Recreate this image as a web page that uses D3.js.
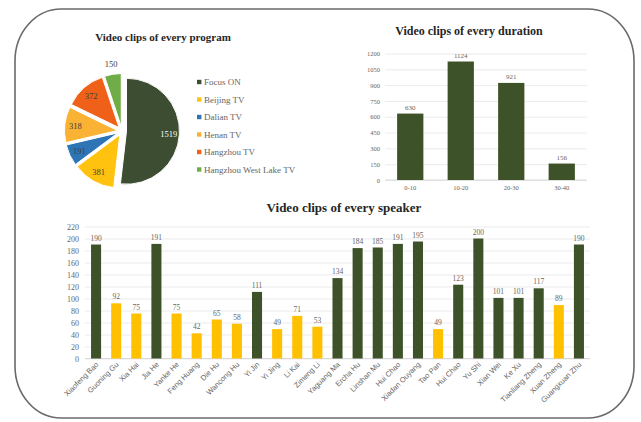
<!DOCTYPE html>
<html>
<head>
<meta charset="utf-8">
<script src="https://cdn.jsdelivr.net/npm/d3@7"></script>
<style>
  body { margin: 0; background: #fff; }
  svg { display: block; }
</style>
</head>
<body>
<svg id="chart"></svg>
<script>
// data
const programs = ['Focus ON', 'Beijing TV', 'Dalian TV', 'Henan TV', 'Hangzhou TV', 'Hangzhou West Lake TV'];
const programClips = [1519, 381, 191, 318, 372, 150];

const durations = ['0-10', '10-20', '20-30', '30-40'];
const durationClips = [630, 1124, 921, 156];
const durationTicks = [0, 150, 300, 450, 600, 750, 900, 1050, 1200];

const speakers = ['Xiaofeng Bao', 'Guoning Gu', 'Xia Hai', 'Jia He', 'Yanke He', 'Feng Huang', 'Die Hu',
  'Wancong Hu', 'Yi Jin', 'Yi Jing', 'Li Kai', 'Zimeng Li', 'Yaguang Ma', 'Ercha Hu', 'Linshan Mu',
  'Hui Chao', 'Xiadan Ouyang', 'Tao Pan', 'Hui Chao', 'Yu Shi', 'Xian Wei', 'Ke Xu',
  'Tianliang Zheng', 'Xuan Zheng', 'Guangxuan Zhu'];
const speakerClips = [190, 92, 75, 191, 75, 42, 65, 58, 111, 49, 71, 53, 134, 184, 185, 191, 195, 49,
  123, 200, 101, 101, 117, 89, 190];
const speakerTicks = [0, 20, 40, 60, 80, 100, 120, 140, 160, 180, 200, 220];

const W = 641, H = 422;
const serif = '"Liberation Serif", "DejaVu Serif", serif';
const sans = '"Liberation Sans", Arial, sans-serif';
const green = '#3e5229';
const yellow = '#ffc000';
const gridColor = '#e3e3e3';
const textGray = '#666666';

const svg = d3.select('#chart')
  .attr('width', W)
  .attr('height', H);

svg.append('rect')
  .attr('width', W).attr('height', H)
  .attr('fill', '#fff');

// rounded frame
svg.append('rect')
  .attr('x', 15).attr('y', 9)
  .attr('width', 619).attr('height', 409)
  .attr('rx', 46).attr('ry', 52)
  .attr('fill', 'none')
  .attr('stroke', '#6a6a6a')
  .attr('stroke-width', 1.6);

// ---------- pie ----------
const pieColors = d3.scaleOrdinal()
  .domain(programs)
  .range(['#3c4d31', '#ffc20e', '#2e75b6', '#f9b233', '#ef6118', '#70ad47']);

const cx = 122, cy = 131, r = 53, explode = 4.5;

svg.append('text')
  .attr('x', 163).attr('y', 41)
  .attr('text-anchor', 'middle')
  .attr('font-family', serif)
  .attr('font-weight', 'bold')
  .attr('font-size', 11)
  .attr('fill', '#262626')
  .text('Video clips of every program');

const pie = d3.pie().sort(null).value(d => d.v);
const arcs = pie(programs.map((p, i) => ({ name: p, v: programClips[i] })));
const arc = d3.arc().innerRadius(0).outerRadius(r);

const pieG = svg.append('g').attr('transform', `translate(${cx},${cy})`);

const slices = pieG.selectAll('.slice')
  .data(arcs)
  .enter()
  .append('g')
  .attr('class', 'slice')
  .attr('transform', d => {
    const mid = (d.startAngle + d.endAngle) / 2;
    return `translate(${explode * Math.sin(mid)},${-explode * Math.cos(mid)})`;
  });

slices.append('path')
  .attr('d', arc)
  .attr('fill', d => pieColors(d.data.name))
  .attr('stroke', '#fff')
  .attr('stroke-width', 1);

// small slices get their label outside
const labelR = d => (d.endAngle - d.startAngle < 0.35 ? r * 1.2 : r * 0.8);

slices.append('text')
  .attr('x', d => labelR(d) * Math.sin((d.startAngle + d.endAngle) / 2))
  .attr('y', d => -labelR(d) * Math.cos((d.startAngle + d.endAngle) / 2))
  .attr('dy', '0.35em')
  .attr('text-anchor', 'middle')
  .attr('font-family', serif)
  .attr('font-size', 8.5)
  .attr('fill', (d, i) => i === 0 ? '#fff' : '#404040')
  .text(d => d.data.v);

// legend
const legend = svg.append('g').attr('transform', 'translate(197,82)');
const items = legend.selectAll('.item')
  .data(programs)
  .enter()
  .append('g')
  .attr('class', 'item')
  .attr('transform', (d, i) => `translate(0,${i * 17.5})`);

items.append('rect')
  .attr('x', 0).attr('y', -2.2)
  .attr('width', 4.4).attr('height', 4.4)
  .attr('fill', d => pieColors(d));

items.append('text')
  .attr('x', 7).attr('y', 0)
  .attr('dy', '0.35em')
  .attr('font-family', serif)
  .attr('font-size', 9)
  .attr('fill', textGray)
  .text(d => d);

// ---------- duration bars ----------
svg.append('text')
  .attr('x', 469).attr('y', 35)
  .attr('text-anchor', 'middle')
  .attr('font-family', serif)
  .attr('font-weight', 'bold')
  .attr('font-size', 12)
  .attr('fill', '#262626')
  .text('Video clips of every duration');

const dx = d3.scaleBand()
  .domain(durations)
  .range([385, 587])
  .paddingInner(0.48)
  .paddingOuter(0.24);

const dy = d3.scaleLinear()
  .domain([0, 1200])
  .range([180, 53.5]);

const dAxis = svg.append('g')
  .attr('transform', 'translate(385,0)')
  .call(d3.axisLeft(dy).tickValues(durationTicks).tickFormat(d3.format('d'))
    .tickSize(-202).tickPadding(5));
dAxis.select('.domain').remove();
dAxis.selectAll('line').attr('stroke', gridColor).attr('stroke-width', 0.7);
dAxis.selectAll('text')
  .attr('font-family', serif)
  .attr('font-size', 6.5)
  .attr('fill', textGray);

svg.append('line')
  .attr('x1', 385).attr('x2', 587)
  .attr('y1', dy(0)).attr('y2', dy(0))
  .attr('stroke', '#d0d0d0')
  .attr('stroke-width', 0.8);

svg.selectAll('.dbar')
  .data(durationClips)
  .enter()
  .append('rect')
  .attr('class', 'dbar')
  .attr('x', (d, i) => dx(durations[i]))
  .attr('y', d => dy(d))
  .attr('width', dx.bandwidth())
  .attr('height', d => dy(0) - dy(d))
  .attr('fill', green);

svg.selectAll('.dval')
  .data(durationClips)
  .enter()
  .append('text')
  .attr('class', 'dval')
  .attr('x', (d, i) => dx(durations[i]) + dx.bandwidth() / 2)
  .attr('y', d => dy(d) - 4)
  .attr('text-anchor', 'middle')
  .attr('font-family', serif)
  .attr('font-size', 7)
  .attr('fill', textGray)
  .text(d => d);

svg.selectAll('.dlab')
  .data(durations)
  .enter()
  .append('text')
  .attr('class', 'dlab')
  .attr('x', d => dx(d) + dx.bandwidth() / 2)
  .attr('y', 190)
  .attr('text-anchor', 'middle')
  .attr('font-family', serif)
  .attr('font-size', 6.5)
  .attr('fill', textGray)
  .text(d => d);

// ---------- speaker bars ----------
svg.append('text')
  .attr('x', 344).attr('y', 212)
  .attr('text-anchor', 'middle')
  .attr('font-family', serif)
  .attr('font-weight', 'bold')
  .attr('font-size', 13)
  .attr('fill', '#262626')
  .text('Video clips of every speaker');

const sx = d3.scaleBand()
  .domain(d3.range(speakers.length))
  .range([85, 590])
  .paddingInner(0.5)
  .paddingOuter(0.3);

const sy = d3.scaleLinear()
  .domain([0, 220])
  .range([358.5, 226.5]);

const sAxis = svg.append('g')
  .attr('transform', 'translate(85,0)')
  .call(d3.axisLeft(sy).tickValues(speakerTicks).tickSize(-505).tickPadding(6));
sAxis.select('.domain').remove();
sAxis.selectAll('line').attr('stroke', gridColor).attr('stroke-width', 0.7);
sAxis.selectAll('text')
  .attr('font-family', serif)
  .attr('font-size', 8)
  .attr('fill', textGray);

svg.append('line')
  .attr('x1', 85).attr('x2', 590)
  .attr('y1', sy(0)).attr('y2', sy(0))
  .attr('stroke', '#d0d0d0')
  .attr('stroke-width', 0.8);

svg.selectAll('.sbar')
  .data(speakerClips)
  .enter()
  .append('rect')
  .attr('class', 'sbar')
  .attr('x', (d, i) => sx(i))
  .attr('y', d => sy(d))
  .attr('width', sx.bandwidth())
  .attr('height', d => sy(0) - sy(d))
  .attr('fill', d => d >= 100 ? green : yellow);

svg.selectAll('.sval')
  .data(speakerClips)
  .enter()
  .append('text')
  .attr('class', 'sval')
  .attr('x', (d, i) => sx(i) + sx.bandwidth() / 2)
  .attr('y', d => sy(d) - 4)
  .attr('text-anchor', 'middle')
  .attr('font-family', serif)
  .attr('font-size', 7.5)
  .attr('fill', textGray)
  .text(d => d);

svg.selectAll('.slab')
  .data(speakers)
  .enter()
  .append('text')
  .attr('class', 'slab')
  .attr('text-anchor', 'end')
  .attr('transform', (d, i) => `translate(${sx(i) + sx.bandwidth() / 2 + 3},365) rotate(-45)`)
  .attr('font-family', sans)
  .attr('font-size', 7.5)
  .attr('fill', textGray)
  .text(d => d);
</script>
</body>
</html>
